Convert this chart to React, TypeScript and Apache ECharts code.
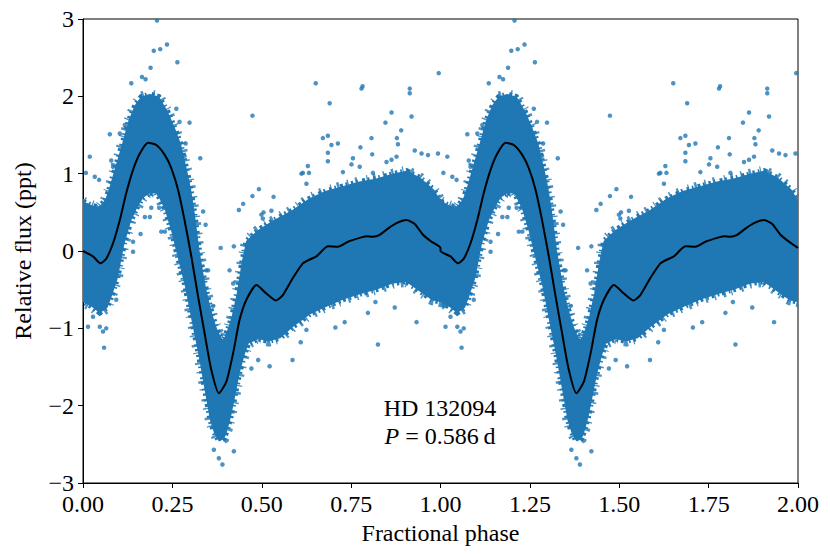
import React, { useEffect, useRef } from "react";
import * as echarts from "echarts";

// Binned mean light curve (one period, phase 0..1)
const curvePhase = [0.0, 0.028, 0.049, 0.065, 0.084, 0.103, 0.121, 0.14, 0.159, 0.182, 0.205, 0.229, 0.247, 0.266, 0.284, 0.303, 0.322, 0.34, 0.359, 0.38, 0.401, 0.42, 0.438, 0.457, 0.485, 0.513, 0.54, 0.559, 0.587, 0.615, 0.634, 0.653, 0.685, 0.713, 0.741, 0.774, 0.793, 0.811, 0.83, 0.853, 0.877, 0.905, 0.928, 0.951, 0.975, 1.0];
const curveFlux = [0.0, -0.07, -0.16, -0.1, 0.1, 0.4, 0.75, 1.05, 1.26, 1.4, 1.37, 1.24, 1.07, 0.79, 0.4, -0.07, -0.59, -1.06, -1.54, -1.84, -1.69, -1.32, -0.89, -0.63, -0.44, -0.55, -0.64, -0.57, -0.35, -0.16, -0.11, -0.07, 0.06, 0.055, 0.12, 0.17, 0.19, 0.185, 0.21, 0.29, 0.36, 0.4, 0.35, 0.21, 0.12, 0.04];

// Envelope of the dense point cloud (one period)
const envPhase = [0.0, 0.025, 0.047, 0.065, 0.075, 0.093, 0.112, 0.131, 0.149, 0.165, 0.187, 0.21, 0.233, 0.252, 0.27, 0.289, 0.298, 0.308, 0.322, 0.331, 0.34, 0.35, 0.359, 0.37, 0.382, 0.392, 0.4, 0.41, 0.42, 0.434, 0.448, 0.46, 0.49, 0.52, 0.55, 0.587, 0.634, 0.681, 0.727, 0.774, 0.821, 0.867, 0.905, 0.942, 0.979, 1.0];
const envHigh = [0.62, 0.57, 0.55, 0.65, 0.77, 1.06, 1.36, 1.68, 1.88, 1.98, 2.01, 1.98, 1.8, 1.6, 1.38, 1.0, 0.8, 0.5, 0.0, -0.25, -0.48, -0.68, -0.84, -1.0, -1.12, -1.18, -1.12, -1.0, -0.85, -0.55, -0.15, 0.12, 0.25, 0.34, 0.42, 0.51, 0.66, 0.76, 0.82, 0.88, 0.92, 0.98, 1.02, 0.93, 0.78, 0.62];
const envLow = [-0.64, -0.7, -0.78, -0.72, -0.6, -0.35, 0.1, 0.4, 0.58, 0.7, 0.77, 0.76, 0.54, 0.24, -0.1, -0.45, -0.66, -0.9, -1.22, -1.44, -1.68, -1.94, -2.18, -2.34, -2.44, -2.41, -2.31, -2.14, -1.91, -1.58, -1.34, -1.18, -1.12, -1.15, -1.11, -0.96, -0.8, -0.7, -0.61, -0.54, -0.48, -0.4, -0.38, -0.5, -0.62, -0.64];

// Individual points lying outside the dense cloud (phase, flux), one period
const outlierPoints = [
  [0.207, 2.98], [0.198, 2.59], [0.216, 2.61], [0.235, 2.67], [0.264, 2.44], [0.135, 2.17], [0.189, 2.37], [0.175, 2.22], [0.165, 2.25],
  [0.075, 1.51], [0.019, 1.22], [0.008, 1.01], [0.033, 0.96], [0.045, 0.92], [0.079, 1.17], [0.084, 1.09],
  [0.103, 1.52], [0.117, 1.63], [0.261, 1.84], [0.27, 1.67], [0.298, 1.66], [0.287, 1.39], [0.284, 1.23], [0.328, 1.2], [0.336, 0.51], [0.343, 0.34],
  [0.385, 0.04], [0.422, 0.06], [0.474, 1.75], [0.492, 0.8], [0.474, 0.71], [0.448, 0.61], [0.436, 0.53], [0.499, 0.47], [0.503, 0.42],
  [0.533, 0.7], [0.505, 0.5], [0.527, 0.52],
  [0.611, 1.0], [0.629, 1.1], [0.632, 1.01], [0.615, 1.01], [0.625, 0.87],
  [0.651, 2.17], [0.69, 1.91], [0.779, 2.1], [0.782, 2.13], [0.671, 1.46], [0.685, 1.49], [0.695, 1.37], [0.685, 1.27], [0.685, 1.16], [0.713, 1.39],
  [0.776, 1.34], [0.807, 1.46], [0.809, 1.25], [0.863, 1.79], [0.846, 1.66], [0.89, 1.56], [0.878, 1.46], [0.881, 1.38], [0.919, 1.74], [0.914, 2.1], [0.914, 2.04],
  [0.811, 1.01], [0.774, 1.09], [0.755, 1.2], [0.751, 1.12], [0.727, 1.02], [0.849, 1.15], [0.863, 1.18], [0.877, 1.22], [0.928, 1.3], [0.947, 1.26], [0.965, 1.24], [0.993, 1.26], [0.995, 2.3],
  [0.191, 0.56], [0.213, 0.56], [0.173, 0.44], [0.187, 0.44], [0.219, 0.25], [0.229, 0.25], [0.14, 0.12], [0.161, 0.22], [0.14, -0.01],
  [0.059, -1.25], [0.014, -0.98], [0.047, -0.98], [0.056, -1.04], [0.065, -1.0], [0.028, -0.85], [0.093, -0.63],
  [0.39, -2.76], [0.38, -2.68], [0.422, -2.59], [0.366, -2.57],
  [0.586, -1.41], [0.522, -1.49], [0.49, -1.41], [0.471, -1.52], [0.609, -1.18], [0.625, -1.02], [0.825, -1.21], [0.706, -0.99], [0.732, -0.92], [0.797, -0.8], [0.872, -0.73], [0.933, -0.92], [0.818, -0.66],
  [0.345, -0.25], [0.41, -0.25], [0.42, -0.42], [0.364, -0.71], [0.35, -0.25],
];

// The data are phase-folded and shown twice
const periodOffsets = [0, 1];

const FONT = '"Liberation Serif", "DejaVu Serif", serif';
const BLUE = "#1f77b4";
const FS = 24;

export default function App() {
  const ref = useRef<HTMLDivElement>(null);

  useEffect(() => {
    document.body.style.margin = "0";
    const chart = echarts.init(ref.current!, null, { renderer: "svg" });

    const curveData = periodOffsets.flatMap((k) => curvePhase.map((p, i) => [p + k, curveFlux[i]]));
    const outData = periodOffsets
      .flatMap((k) => outlierPoints.map(([p, f]) => [p + k, f]))
      .filter((d) => d[0] <= 2);

    const option: any = {
      animation: false,
      grid: { left: 83, right: 32, top: 19, bottom: 72, show: true, borderColor: "#000", borderWidth: 1 },
      xAxis: {
        type: "value",
        min: 0,
        max: 2,
        interval: 0.25,
        name: "Fractional phase",
        nameLocation: "middle",
        nameGap: 31,
        nameTextStyle: { fontFamily: FONT, fontSize: FS, color: "#000" },
        axisLine: { show: true, onZero: false, lineStyle: { color: "#000", width: 1 } },
        axisTick: { show: true, inside: false, length: 5, lineStyle: { color: "#000", width: 1 } },
        axisLabel: { fontFamily: FONT, fontSize: FS, color: "#000", margin: 9, formatter: (v: number) => v.toFixed(2) },
        splitLine: { show: false },
      },
      yAxis: {
        type: "value",
        min: -3,
        max: 3,
        interval: 1,
        name: "Relative flux (ppt)",
        nameLocation: "middle",
        nameGap: 48,
        nameTextStyle: { fontFamily: FONT, fontSize: FS, color: "#000" },
        axisLine: { show: true, onZero: false, lineStyle: { color: "#000", width: 1 } },
        axisTick: { show: true, inside: false, length: 5, lineStyle: { color: "#000", width: 1 } },
        axisLabel: {
          fontFamily: FONT,
          fontSize: FS,
          color: "#000",
          margin: 9,
          formatter: (v: number) => (v < 0 ? "\u2212" + Math.abs(v) : String(v)),
        },
        splitLine: { show: false },
      },
      series: [
        {
          type: "custom",
          coordinateSystem: "cartesian2d",
          data: periodOffsets.map((k) => [k, 0]),
          encode: { x: 0, y: 1 },
          clip: true,
          silent: true,
          z: 1,
          renderItem: (params: any, api: any) => {
            const k = api.value(0);
            const top = envPhase.map((p, i) => api.coord([p + k, envHigh[i]]));
            const bot = envPhase.map((p, i) => api.coord([p + k, envLow[i]])).reverse();
            const pts = top.concat(bot);
            return {
              type: "group",
              children: [
                {
                  type: "polygon",
                  shape: { points: pts },
                  style: { fill: "none", stroke: BLUE, lineWidth: 13, lineDash: [1.5, 7, 2.2, 9, 1.2, 5.5, 2.6, 8], opacity: 0.8 },
                },
                {
                  type: "polygon",
                  shape: { points: pts },
                  style: { fill: "none", stroke: BLUE, lineWidth: 8, lineDash: [2.4, 3.1, 1.6, 4.2, 3, 2.6, 1.9, 3.8] },
                },
                {
                  type: "polygon",
                  shape: { points: pts },
                  style: { fill: BLUE, stroke: BLUE, lineWidth: 3, lineJoin: "round" },
                },
              ],
            };
          },
        },
        {
          type: "scatter",
          data: outData,
          symbol: "circle",
          symbolSize: 4.5,
          itemStyle: { color: BLUE },
          silent: true,
          z: 2,
        },
        {
          type: "line",
          data: curveData,
          showSymbol: false,
          smooth: 0.2,
          lineStyle: { color: "#000", width: 2 },
          silent: true,
          z: 3,
        },
      ],
      graphic: [
        {
          type: "text",
          x: 440,
          y: 408,
          style: { text: "HD 132094", fontFamily: FONT, fontSize: FS, fill: "#000", align: "center", verticalAlign: "middle" },
        },
        {
          type: "text",
          x: 440,
          y: 436,
          style: {
            text: "{i|P} = 0.586\u2009d",
            fontFamily: FONT,
            fontSize: FS,
            fill: "#000",
            align: "center",
            verticalAlign: "middle",
            rich: { i: { fontStyle: "italic", fontFamily: FONT, fontSize: FS, fill: "#000" } },
          },
        },
      ],
    };

    chart.setOption(option);
    return () => chart.dispose();
  }, []);

  return <div ref={ref} style={{ width: 830, height: 555 }} />;
}
